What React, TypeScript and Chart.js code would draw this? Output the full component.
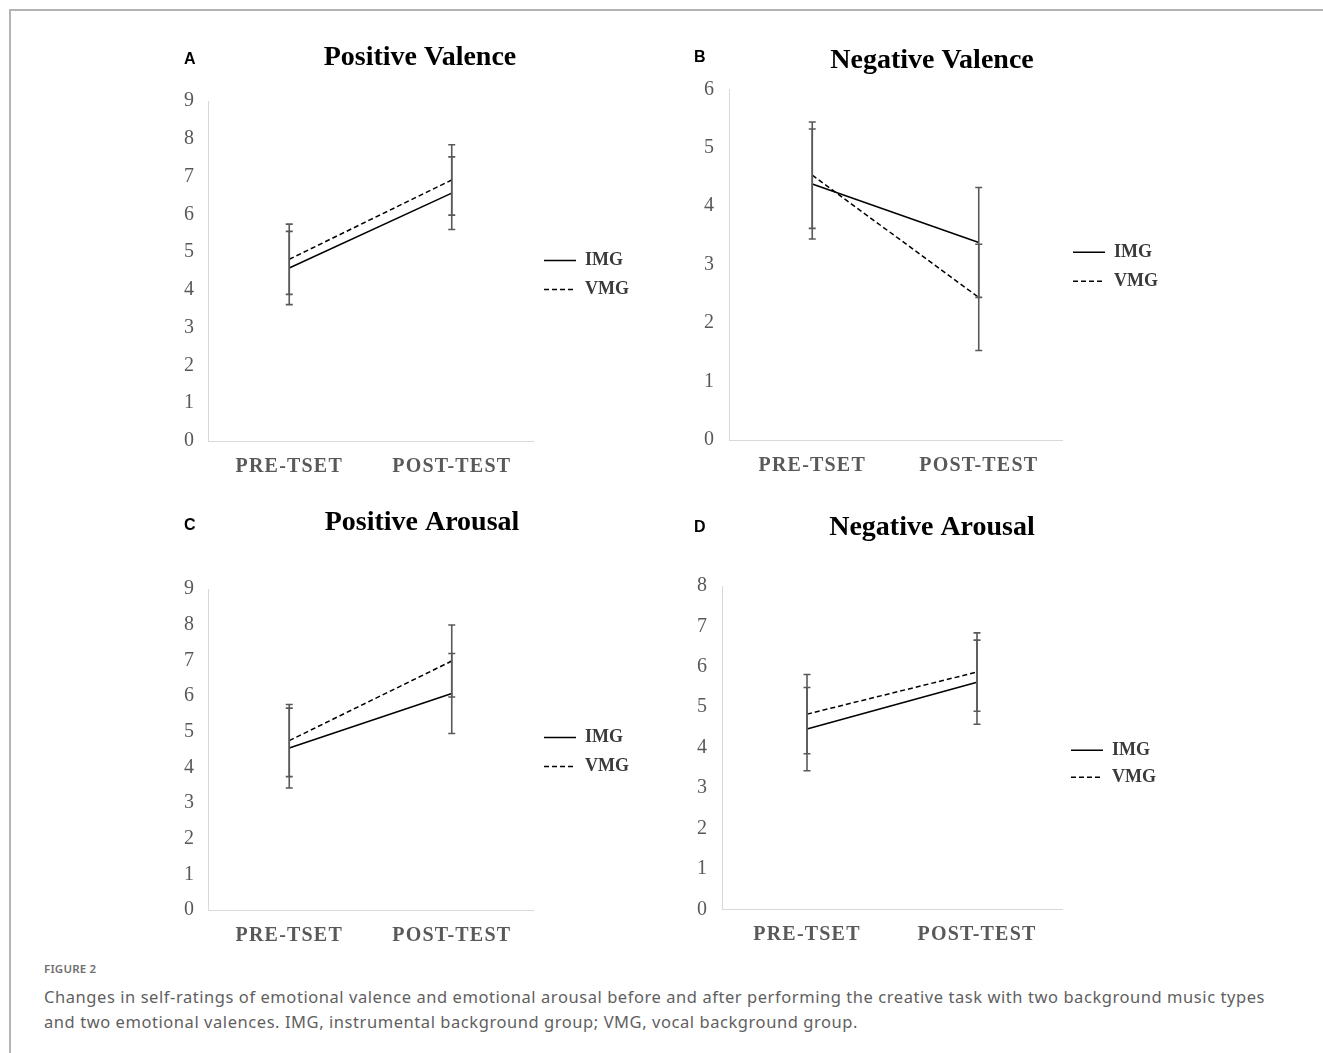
import React, { useEffect, useRef } from 'react';
import { Chart, registerables, CategoryScale } from 'chart.js';

Chart.register(...registerables);

// ---------------- data ----------------
const CATEGORIES = ['PRE-TSET', 'POST-TEST'];
const SERIES_NAMES = ['IMG', 'VMG'];

// A: Positive Valence
const A_IMG = [4.58, 6.56];
const A_IMG_ERR = [0.97, 0.96];
const A_VMG = [4.81, 6.91];
const A_VMG_ERR = [0.93, 0.93];
const A_Y_MAX = 9;

// B: Negative Valence
const B_IMG = [4.38, 3.38];
const B_IMG_ERR = [0.94, 0.94];
const B_VMG = [4.53, 2.44];
const B_VMG_ERR = [0.91, 0.91];
const B_Y_MAX = 6;

// C: Positive Arousal
const C_IMG = [4.54, 6.07];
const C_IMG_ERR = [1.12, 1.12];
const C_VMG = [4.75, 6.98];
const C_VMG_ERR = [1.01, 1.01];
const C_Y_MAX = 9;

// D: Negative Arousal
const D_IMG = [4.46, 5.62];
const D_IMG_ERR = [1.03, 1.04];
const D_VMG = [4.83, 5.87];
const D_VMG_ERR = [0.98, 0.97];
const D_Y_MAX = 8;

const TITLES = ['Positive Valence', 'Negative Valence', 'Positive Arousal', 'Negative Arousal'];
const PANEL_LETTERS = ['A', 'B', 'C', 'D'];

const CAPTION_LABEL = 'FIGURE 2';
const CAPTION_LINE_1 =
  'Changes in self-ratings of emotional valence and emotional arousal before and after performing the creative task with two background music types';
const CAPTION_LINE_2 =
  'and two emotional valences. IMG, instrumental background group; VMG, vocal background group.';

// ---------------- styles ----------------
const SERIF = 'Liberation Serif';
const SANS = 'Liberation Sans';
const AXIS_GRAY = '#595959';
const AXIS_LINE = '#d9d9d9';
const X_LETTER_SPACING = '1.2px';

class SpacedCategoryScale extends CategoryScale {
  static id = 'spacedCategory';
  static defaults = CategoryScale.defaults;
  drawLabels(chartArea: any) {
    const ctx: any = this.ctx;
    ctx.save();
    ctx.letterSpacing = X_LETTER_SPACING;
    super.drawLabels(chartArea);
    ctx.restore();
  }
}
Chart.register(SpacedCategoryScale as any);

const errorBarPlugin = {
  id: 'errorBars',
  afterDatasetsDraw(chart: any) {
    const ctx = chart.ctx;
    const yScale = chart.scales.y;
    chart.data.datasets.forEach((ds: any, di: number) => {
      const errs = ds.errors as number[] | undefined;
      if (!errs) return;
      const meta = chart.getDatasetMeta(di);
      meta.data.forEach((pt: any, i: number) => {
        const v = ds.data[i] as number;
        const e = errs[i];
        const x = pt.x;
        const yTop = yScale.getPixelForValue(v + e);
        const yBot = yScale.getPixelForValue(v - e);
        ctx.save();
        ctx.strokeStyle = AXIS_GRAY;
        ctx.lineWidth = 1.6;
        ctx.setLineDash([]);
        ctx.beginPath();
        ctx.moveTo(x, yTop);
        ctx.lineTo(x, yBot);
        ctx.moveTo(x - 3.5, yTop);
        ctx.lineTo(x + 3.5, yTop);
        ctx.moveTo(x - 3.5, yBot);
        ctx.lineTo(x + 3.5, yBot);
        ctx.stroke();
        ctx.restore();
      });
    });
  },
};

type Spec = {
  title: string;
  img: number[];
  imgErr: number[];
  vmg: number[];
  vmgErr: number[];
  yMax: number;
  left: number;
  top: number;
  width: number;
  height: number;
  yW: number;
  xH: number;
  tickPad: number;
  xTickPad: number;
  titlePadTop: number;
  titlePadBottom: number;
  spacer: number;
  legendPad: number;
  legendTitleH: number;
};

const SPECS: Spec[] = [
  {
    title: TITLES[0], img: A_IMG, imgErr: A_IMG_ERR, vmg: A_VMG, vmgErr: A_VMG_ERR, yMax: A_Y_MAX,
    left: 150, top: 30, width: 540, height: 456, yW: 58, xH: 45, tickPad: 14, xTickPad: 14,
    titlePadTop: 11.2, titlePadBottom: 26.2, spacer: 57, legendPad: 11, legendTitleH: 8,
  },
  {
    title: TITLES[1], img: B_IMG, imgErr: B_IMG_ERR, vmg: B_VMG, vmgErr: B_VMG_ERR, yMax: B_Y_MAX,
    left: 680, top: 30, width: 504, height: 455, yW: 49, xH: 45, tickPad: 15, xTickPad: 14,
    titlePadTop: 14.2, titlePadBottom: 11.5, spacer: 22, legendPad: 11, legendTitleH: 4,
  },
  {
    title: TITLES[2], img: C_IMG, imgErr: C_IMG_ERR, vmg: C_VMG, vmgErr: C_VMG_ERR, yMax: C_Y_MAX,
    left: 150, top: 495, width: 544, height: 460, yW: 58, xH: 45, tickPad: 14, xTickPad: 14,
    titlePadTop: 11.2, titlePadBottom: 49.2, spacer: 61, legendPad: 11, legendTitleH: 5,
  },
  {
    title: TITLES[3], img: D_IMG, imgErr: D_IMG_ERR, vmg: D_VMG, vmgErr: D_VMG_ERR, yMax: D_Y_MAX,
    left: 680, top: 495, width: 504, height: 460, yW: 42, xH: 45.7, tickPad: 15, xTickPad: 14,
    titlePadTop: 16.2, titlePadBottom: 41.2, spacer: 22, legendPad: 9, legendTitleH: 32,
  },
];

const LEGEND_WIDTH = 100;
const LEGEND_TITLE_FONT = 2;

function PanelChart({ spec }: { spec: Spec }) {
  const ref = useRef<HTMLCanvasElement>(null);
  useEffect(() => {
    const canvas = ref.current;
    if (!canvas) return;
    const titlePad = Math.max(0, (spec.legendTitleH - LEGEND_TITLE_FONT * 1.2) / 2);
    const chart = new Chart(canvas, {
      type: 'line',
      data: {
        labels: CATEGORIES,
        datasets: [
          {
            label: SERIES_NAMES[0],
            data: spec.img,
            errors: spec.imgErr,
            borderColor: '#000000',
            backgroundColor: '#000000',
            borderWidth: 1.5,
            borderDash: [],
            pointRadius: 0,
            yAxisID: 'y',
          } as any,
          {
            label: SERIES_NAMES[1],
            data: spec.vmg,
            errors: spec.vmgErr,
            borderColor: '#000000',
            backgroundColor: '#000000',
            borderWidth: 1.5,
            borderDash: [5, 3],
            pointRadius: 0,
            yAxisID: 'y',
          } as any,
        ],
      },
      options: {
        animation: false,
        responsive: false,
        maintainAspectRatio: false,
        layout: { padding: 0 },
        scales: {
          x: {
            type: 'spacedCategory' as any,
            offset: true,
            grid: { display: false, drawTicks: false },
            border: { display: true, color: AXIS_LINE, width: 1 },
            ticks: {
              font: { family: SERIF, size: 20, weight: 'bold' },
              color: AXIS_GRAY,
              padding: spec.xTickPad,
              maxRotation: 0,
              autoSkip: false,
            },
            afterFit: (s: any) => {
              s.height = spec.xH;
            },
          } as any,
          y: {
            type: 'linear',
            position: 'left',
            min: 0,
            max: spec.yMax,
            grid: { display: false, drawTicks: false },
            border: { display: true, color: AXIS_LINE, width: 1 },
            ticks: {
              stepSize: 1,
              font: { family: SERIF, size: 20 },
              color: AXIS_GRAY,
              padding: spec.tickPad,
            },
            afterFit: (s: any) => {
              s.width = spec.yW;
            },
          } as any,
          pad: {
            type: 'linear',
            position: 'right',
            weight: 2000,
            display: true,
            grid: { display: false, drawTicks: false },
            border: { display: false },
            ticks: { display: false },
            afterFit: (s: any) => {
              s.width = spec.spacer;
            },
          } as any,
        },
        plugins: {
          title: {
            display: true,
            text: spec.title,
            color: '#000000',
            font: { family: SERIF, size: 28, weight: 'bold' },
            padding: { top: spec.titlePadTop, bottom: spec.titlePadBottom },
          },
          legend: {
            display: true,
            position: 'right',
            fullSize: false,
            maxWidth: LEGEND_WIDTH,
            title: {
              display: spec.legendTitleH > 0,
              text: ' ',
              font: { size: LEGEND_TITLE_FONT },
              padding: { top: titlePad, bottom: titlePad },
            },
            labels: {
              usePointStyle: true,
              pointStyle: 'line',
              pointStyleWidth: 32,
              padding: spec.legendPad,
              color: '#3a3a3a',
              font: { family: SERIF, size: 18, weight: 'bold' },
              generateLabels: (ch: any) => {
                const items = Chart.defaults.plugins.legend.labels.generateLabels(ch);
                return items.map((it: any) => {
                  const ds: any = ch.data.datasets[it.datasetIndex];
                  return {
                    ...it,
                    lineDash: ds.borderDash || [],
                    lineWidth: ds.borderWidth,
                    strokeStyle: ds.borderColor,
                    fillStyle: ds.borderColor,
                    pointStyle: 'line',
                  };
                });
              },
            },
          } as any,
          tooltip: { enabled: false },
        },
      },
      plugins: [errorBarPlugin],
    } as any);
    return () => chart.destroy();
  }, [spec]);
  return (
    <canvas
      ref={ref}
      width={spec.width}
      height={spec.height}
      style={{ position: 'absolute', left: spec.left, top: spec.top, width: spec.width, height: spec.height }}
    />
  );
}

const LETTER_POS = [
  { left: 184, top: 51 },
  { left: 694, top: 49 },
  { left: 184, top: 517 },
  { left: 694, top: 519 },
];

export default function App() {
  return (
    <div style={{ position: 'absolute', left: 0, top: 0, width: 1323, height: 1053, background: '#ffffff', overflow: 'hidden' }}>
      <div
        style={{
          position: 'absolute',
          left: 9,
          top: 9,
          width: 1330,
          height: 1060,
          borderTop: '2px solid #b4b4b4',
          borderLeft: '2px solid #b4b4b4',
          boxSizing: 'border-box',
        }}
      />
      {SPECS.map((s, i) => (
        <PanelChart key={i} spec={s} />
      ))}
      {PANEL_LETTERS.map((l, i) => (
        <div
          key={l}
          style={{
            position: 'absolute',
            left: LETTER_POS[i].left,
            top: LETTER_POS[i].top,
            fontFamily: SANS,
            fontWeight: 'bold',
            fontSize: 16,
            lineHeight: '16px',
            color: '#000',
          }}
        >
          {l}
        </div>
      ))}
      <div
        style={{
          position: 'absolute',
          left: 44,
          top: 962,
          fontFamily: 'Noto Sans',
          fontWeight: 600,
          fontSize: 11.5,
          lineHeight: '14px',
          color: '#707070',
          letterSpacing: '0.2px',
        }}
      >
        {CAPTION_LABEL}
      </div>
      <div
        style={{
          position: 'absolute',
          left: 44,
          top: 984,
          fontFamily: 'Noto Sans',
          fontSize: 16.5,
          lineHeight: '25px',
          color: '#5f5f5f',
          letterSpacing: '0.56px',
          whiteSpace: 'nowrap',
        }}
      >
        <div>{CAPTION_LINE_1}</div>
        <div>{CAPTION_LINE_2}</div>
      </div>
    </div>
  );
}
